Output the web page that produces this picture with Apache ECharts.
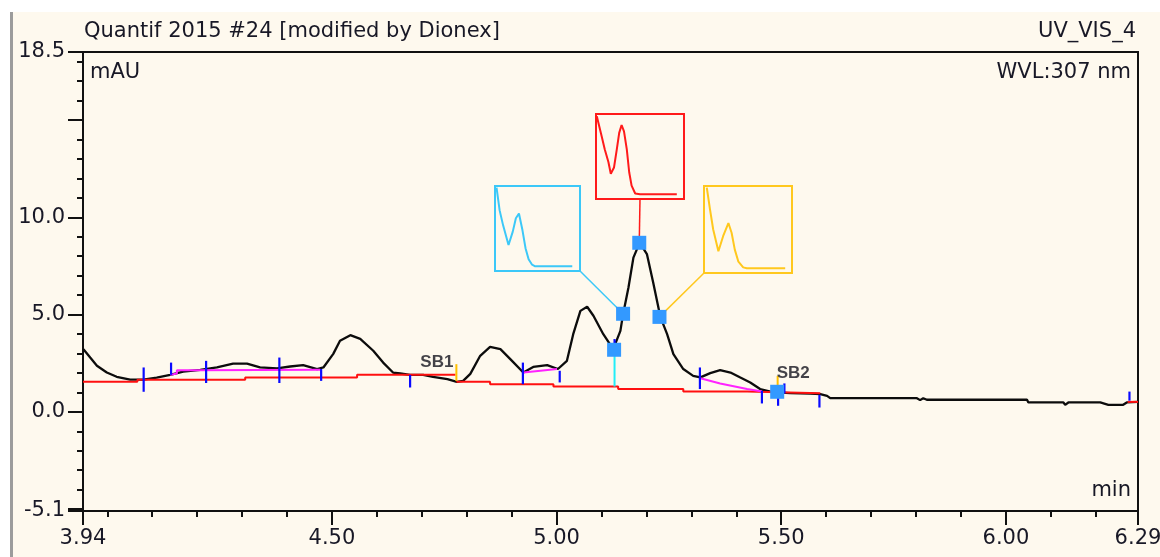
<!DOCTYPE html>
<html>
<head>
<meta charset="utf-8">
<script src="https://cdn.jsdelivr.net/npm/echarts@6/dist/echarts.min.js"></script>
<style>
  html, body { margin: 0; padding: 0; background: #ffffff; }
  #frame { position: absolute; left: 10px; top: 12px; width: 1150px; height: 545px;
           background: #fef9ee; border-left: 3px solid #9c9c9c; box-sizing: border-box; }
  #chart { position: absolute; left: 0; top: 0; width: 1160px; height: 557px; }
</style>
</head>
<body>
<div id="frame"></div>
<div id="chart"></div>
<script>
// ---- Chromatogram trace (retention time in min, signal in mAU) ----
const traceTime = [3.947, 3.962, 3.977, 3.999, 4.021, 4.051, 4.080, 4.110, 4.140, 4.169,
  4.207, 4.244, 4.280, 4.311, 4.340, 4.378, 4.407, 4.436, 4.467, 4.481,
  4.503, 4.518, 4.541, 4.563, 4.592, 4.614, 4.636, 4.652, 4.674, 4.703,
  4.725, 4.757, 4.778, 4.792, 4.808, 4.830, 4.852, 4.875, 4.897, 4.926,
  4.948, 4.979, 5.003, 5.023, 5.037, 5.053, 5.068, 5.082, 5.104, 5.126,
  5.142, 5.148, 5.160, 5.171, 5.185, 5.201, 5.215, 5.231, 5.246, 5.260,
  5.282, 5.304, 5.320, 5.342, 5.364, 5.387, 5.409, 5.431, 5.453, 5.476,
  5.491, 5.520, 5.565, 5.587, 5.602, 5.609, 5.802, 5.809, 5.816, 5.824,
  6.047, 6.050, 6.128, 6.132, 6.139, 6.210, 6.214, 6.228, 6.261, 6.269, 6.294];
const traceSignal = [3.22, 2.79, 2.37, 2.02, 1.80, 1.65, 1.65, 1.76, 1.90, 2.07,
  2.16, 2.28, 2.48, 2.48, 2.28, 2.23, 2.33, 2.40, 2.20, 2.28,
  2.98, 3.65, 3.94, 3.75, 3.14, 2.53, 2.02, 1.97, 1.90, 1.90,
  1.80, 1.68, 1.54, 1.59, 1.95, 2.88, 3.34, 3.22, 2.71, 2.02,
  2.31, 2.40, 2.20, 2.62, 3.99, 5.19, 5.40, 4.94, 3.99, 3.22,
  4.16, 5.02, 6.39, 7.93, 8.70, 8.11, 6.65, 4.88, 3.99, 2.97,
  2.20, 1.85, 1.77, 1.99, 2.14, 2.02, 1.76, 1.51, 1.17, 1.04,
  1.00, 0.96, 0.94, 0.91, 0.82, 0.70, 0.70, 0.60, 0.70, 0.62,
  0.62, 0.48, 0.48, 0.36, 0.48, 0.48, 0.40, 0.36, 0.36, 0.48, 0.51];

// ---- Integration baselines (red), stepped ----
const baseATime = [3.946, 4.067, 4.307, 4.556, 4.775];
const baseASignal = [1.54, 1.65, 1.76, 1.90, 1.90];
const baseBTime = [4.777, 4.852, 4.993, 5.137, 5.282, 5.424, 5.587];
const baseBSignal = [1.54, 1.42, 1.30, 1.17, 1.05, 0.95, 0.95];
const baseCTime = [6.271, 6.294];
const baseCSignal = [0.51, 0.51];

// ---- Skimmed baselines (magenta) ----
const skim1Time = [4.140, 4.155, 4.200, 4.474];
const skim1Signal = [1.90, 1.97, 2.14, 2.16];
const skim2Time = [4.926, 4.964, 5.001];
const skim2Signal = [2.02, 2.11, 2.20];
const skim3Time = [5.320, 5.364, 5.424, 5.457];
const skim3Signal = [1.73, 1.46, 1.17, 1.04];

// ---- Peak delimiters: time, upper end, lower end ----
const delimTime  = [4.081, 4.142, 4.220, 4.383, 4.476, 4.674, 4.925, 5.007, 5.129, 5.319, 5.457, 5.493, 5.507, 5.585, 6.275];
const delimUpper = [2.28, 2.53, 2.62, 2.79, 2.20, 1.90, 2.53, 2.11, 3.74, 2.28, 1.08, 0.74, 1.46, 0.87, 1.04];
const delimLower = [1.03, 1.90, 1.48, 1.48, 1.59, 1.25, 1.42, 1.51, 2.98, 1.17, 0.43, 0.31, 0.94, 0.22, 0.57];

// ---- Spectrum sampling points (blue squares) ----
const spotTime   = [5.128, 5.148, 5.184, 5.229, 5.491];
const spotSignal = [3.19, 5.04, 8.69, 4.88, 1.03];

// ---- Drop line and signal bunches ----
const dropTime = 5.129, dropFrom = 3.19, dropTo = 1.30;
const sbNames  = ['SB1', 'SB2'];
const sbTime   = [4.777, 5.492];
const sbUpper  = [2.45, 1.85];
const sbLower  = [1.59, 1.34];

// ---- UV spectra (wavelength nm, normalised absorbance) ----
const specUpWl  = [204, 212, 221, 235, 246, 254, 262, 271, 279, 287, 296, 304, 400];
const specUpAbs = [1.00, 0.71, 0.52, 0.27, 0.44, 0.61, 0.67, 0.46, 0.23, 0.09, 0.02, 0, 0];
const specApexWl  = [202, 214, 222, 231, 237, 245, 252, 258, 264, 270, 277, 283, 289, 298, 310, 402];
const specApexAbs = [0.99, 0.74, 0.57, 0.41, 0.26, 0.34, 0.57, 0.78, 0.88, 0.80, 0.57, 0.28, 0.11, 0.01, 0, 0];
const specDownWl  = [207, 215, 223, 236, 248, 261, 269, 277, 286, 298, 307, 403];
const specDownAbs = [1.00, 0.73, 0.48, 0.21, 0.40, 0.56, 0.44, 0.23, 0.08, 0.01, 0, 0];

// ---- Axis ticks ----
const xMajorTicks  = [3.946, 4.5, 5.0, 5.5, 6.0, 6.294];
const xMajorLabels = ['3.94', '4.50', '5.00', '5.50', '6.00', '6.29'];
const xMinorTicks  = [4.0, 4.1, 4.2, 4.3, 4.4, 4.6, 4.7, 4.8, 4.9, 5.1, 5.2, 5.3, 5.4, 5.6, 5.7, 5.8, 5.9, 6.1, 6.2];
const yMajorTicks  = [18.5, 15, 10, 5, 0, -5, -5.1];
const yLabelTicks  = [18.5, 10, 5, 0, -5.1];
const yLabelText   = ['18.5', '10.0', '5.0', '0.0', '-5.1'];
const yMinorTicks  = [-4, -3, -2, -1, 1, 2, 3, 4, 6, 7, 8, 9, 11, 12, 13, 14, 16, 17, 18];

const X_MIN = 3.946, X_MAX = 6.294, Y_MIN = -5.1, Y_MAX = 18.5;
const FONT = '"DejaVu Sans", Verdana, sans-serif';
const LABEL_FONT = '"Liberation Sans", Arial, sans-serif';
const INK = '#181826';

const zip = (a, b) => a.map((v, i) => [v, b[i]]);

const chart = echarts.init(document.getElementById('chart'), null, { renderer: 'canvas' });

const insetGrids = [
  { left: 495, top: 186, width: 85, height: 85, color: '#3cc8f8' },
  { left: 596, top: 114, width: 88, height: 85, color: '#ff1a1a' },
  { left: 704, top: 186, width: 88, height: 87, color: '#ffc81e' }
];
const spectra = [zip(specUpWl, specUpAbs), zip(specApexWl, specApexAbs), zip(specDownWl, specDownAbs)];
const SPEC_X = [200, 420], SPEC_Y = [-0.06, 1.02];
const INSET_AXIS0 = 2; // first axis index used by the spectrum boxes

const lineSeries = (data, color, extra) => Object.assign({
  type: 'line', data, xAxisIndex: 0, yAxisIndex: 0, symbol: 'none',
  lineStyle: { color, width: 2 }, silent: true, animation: false
}, extra || {});

const vSegments = (color, width) => (params, api) => {
  const a = api.coord([api.value(0), api.value(1)]);
  const b = api.coord([api.value(0), api.value(2)]);
  return { type: 'line', shape: { x1: a[0], y1: a[1], x2: b[0], y2: b[1] },
           style: { stroke: color, lineWidth: width } };
};

const textStyle = { fontFamily: FONT, fontSize: 21, fontWeight: 'normal', color: INK };

const option = {
  animation: false,
  backgroundColor: 'transparent',
  title: [
    { text: 'Quantif 2015 #24 [modified by Dionex]', left: 84, top: 21, padding: 0, textStyle },
    { text: 'UV_VIS_4', right: 24, top: 21, padding: 0, textStyle },
    { text: 'mAU', left: 90, top: 62, padding: 0, textStyle },
    { text: 'WVL:307 nm', right: 29, top: 62, padding: 0, textStyle },
    { text: 'min', right: 29, top: 480, padding: 0, textStyle }
  ],
  grid: [
    { left: 83, top: 52, width: 1055, height: 459, show: true, borderColor: '#111', borderWidth: 2,
      backgroundColor: 'transparent', outerBoundsMode: 'none', containLabel: false }
  ].concat(insetGrids.map(g => ({
    left: g.left, top: g.top, width: g.width, height: g.height, show: true,
    borderColor: g.color, borderWidth: 2, backgroundColor: 'transparent',
    outerBoundsMode: 'none', containLabel: false
  }))),
  xAxis: [
    { type: 'value', gridIndex: 0, min: X_MIN, max: X_MAX, position: 'bottom',
      axisLine: { show: true, onZero: false, lineStyle: { color: '#111', width: 2 } },
      axisTick: { show: true, customValues: xMajorTicks, length: 14, lineStyle: { color: '#111', width: 2 } },
      axisLabel: { show: true, customValues: xMajorTicks, margin: 17, showMinLabel: true, showMaxLabel: true,
        formatter: v => xMajorLabels[xMajorTicks.indexOf(v)],
        fontFamily: FONT, fontSize: 21, color: INK },
      splitLine: { show: false } },
    { type: 'value', gridIndex: 0, min: X_MIN, max: X_MAX, position: 'bottom',
      axisLine: { show: false, onZero: false },
      axisTick: { show: true, customValues: xMinorTicks, length: 6, lineStyle: { color: '#111', width: 2 } },
      axisLabel: { show: false }, splitLine: { show: false } }
  ].concat(insetGrids.map((g, i) => ({
    type: 'value', gridIndex: i + 1, min: SPEC_X[0], max: SPEC_X[1], show: false,
    axisLine: { onZero: false }, splitLine: { show: false }
  }))),
  yAxis: [
    { type: 'value', gridIndex: 0, min: Y_MIN, max: Y_MAX, position: 'left',
      axisLine: { show: true, onZero: false, lineStyle: { color: '#111', width: 2 } },
      axisTick: { show: true, customValues: yMajorTicks, length: 15, lineStyle: { color: '#111', width: 2 } },
      axisLabel: { show: true, customValues: yLabelTicks, margin: 18, showMinLabel: true, showMaxLabel: true,
        formatter: v => yLabelText[yLabelTicks.indexOf(v)],
        fontFamily: FONT, fontSize: 21, color: INK },
      splitLine: { show: false } },
    { type: 'value', gridIndex: 0, min: Y_MIN, max: Y_MAX, position: 'left',
      axisLine: { show: false, onZero: false },
      axisTick: { show: true, customValues: yMinorTicks, length: 6, lineStyle: { color: '#111', width: 2 } },
      axisLabel: { show: false }, splitLine: { show: false } }
  ].concat(insetGrids.map((g, i) => ({
    type: 'value', gridIndex: i + 1, min: SPEC_Y[0], max: SPEC_Y[1], show: false,
    axisLine: { onZero: false }, splitLine: { show: false }
  }))),
  series: [
    lineSeries(zip(traceTime, traceSignal), '#0c0c0c', { z: 3, lineStyle: { color: '#0c0c0c', width: 2.3 } }),
    lineSeries(zip(baseATime, baseASignal), '#ff1010', { step: 'end', z: 4 }),
    lineSeries(zip(baseBTime, baseBSignal), '#ff1010', { step: 'end', z: 4 }),
    lineSeries(zip(baseCTime, baseCSignal), '#ff1010', { z: 4 }),
    lineSeries(zip(skim1Time, skim1Signal), '#ff22ff', { step: 'start', z: 4 }),
    lineSeries(zip(skim2Time, skim2Signal), '#ff22ff', { z: 4 }),
    lineSeries(zip(skim3Time, skim3Signal), '#ff22ff', { z: 4 }),
    { type: 'custom', xAxisIndex: 0, yAxisIndex: 0, z: 5, silent: true,
      data: delimTime.map((t, i) => [t, delimUpper[i], delimLower[i]]),
      encode: { x: 0, y: [1, 2] }, renderItem: vSegments('#0a0aff', 2.2) },
    { type: 'custom', xAxisIndex: 0, yAxisIndex: 0, z: 5, silent: true,
      data: [[dropTime, dropFrom, dropTo]],
      encode: { x: 0, y: [1, 2] }, renderItem: vSegments('#22eef8', 2) },
    { type: 'custom', xAxisIndex: 0, yAxisIndex: 0, z: 5, silent: true,
      data: sbTime.map((t, i) => [t, sbUpper[i], sbLower[i]]),
      encode: { x: 0, y: [1, 2] }, renderItem: vSegments('#ffc000', 2) },
    { type: 'scatter', xAxisIndex: 0, yAxisIndex: 0, z: 6, silent: true, symbolSize: 0,
      data: sbTime.map((t, i) => ({
        value: [t, sbUpper[i]],
        label: i === 0
          ? { show: true, position: 'left', distance: 3, offset: [0, -2] }
          : { show: true, position: 'right', distance: -1, offset: [0, -3] }
      })),
      label: { formatter: p => sbNames[p.dataIndex], fontFamily: LABEL_FONT, fontSize: 17,
               fontWeight: 'bold', color: '#14141e' } },
    { type: 'scatter', xAxisIndex: 0, yAxisIndex: 0, z: 10, silent: true,
      symbol: 'rect', symbolSize: 14, itemStyle: { color: '#3399ff', opacity: 1 },
      data: zip(spotTime, spotSignal) }
  ].concat(spectra.map((d, i) => ({
    type: 'line', xAxisIndex: INSET_AXIS0 + i, yAxisIndex: INSET_AXIS0 + i, data: d,
    symbol: 'none', silent: true, lineStyle: { color: insetGrids[i].color, width: 2 }
  })))
};

chart.setOption(option);

// Leader lines from each spectrum box to its sampling point on the trace.
const markerSeries = 11;
const leaders = [
  { box: 0, corner: [SPEC_X[1], SPEC_Y[0]], spot: 1 },
  { box: 1, corner: [(SPEC_X[0] + SPEC_X[1]) / 2, SPEC_Y[0]], spot: 2 },
  { box: 2, corner: [SPEC_X[0], SPEC_Y[0]], spot: 3 }
];
chart.setOption({
  graphic: leaders.map(l => {
    const axis = INSET_AXIS0 + l.box;
    const a = chart.convertToPixel({ xAxisIndex: axis, yAxisIndex: axis }, l.corner);
    const b = chart.convertToPixel({ seriesIndex: markerSeries }, [spotTime[l.spot], spotSignal[l.spot]]);
    return { type: 'line', z: 1, silent: true,
             shape: { x1: a[0], y1: a[1], x2: b[0], y2: b[1] },
             style: { stroke: insetGrids[l.box].color, lineWidth: 1.5 } };
  })
});
</script>
</body>
</html>
